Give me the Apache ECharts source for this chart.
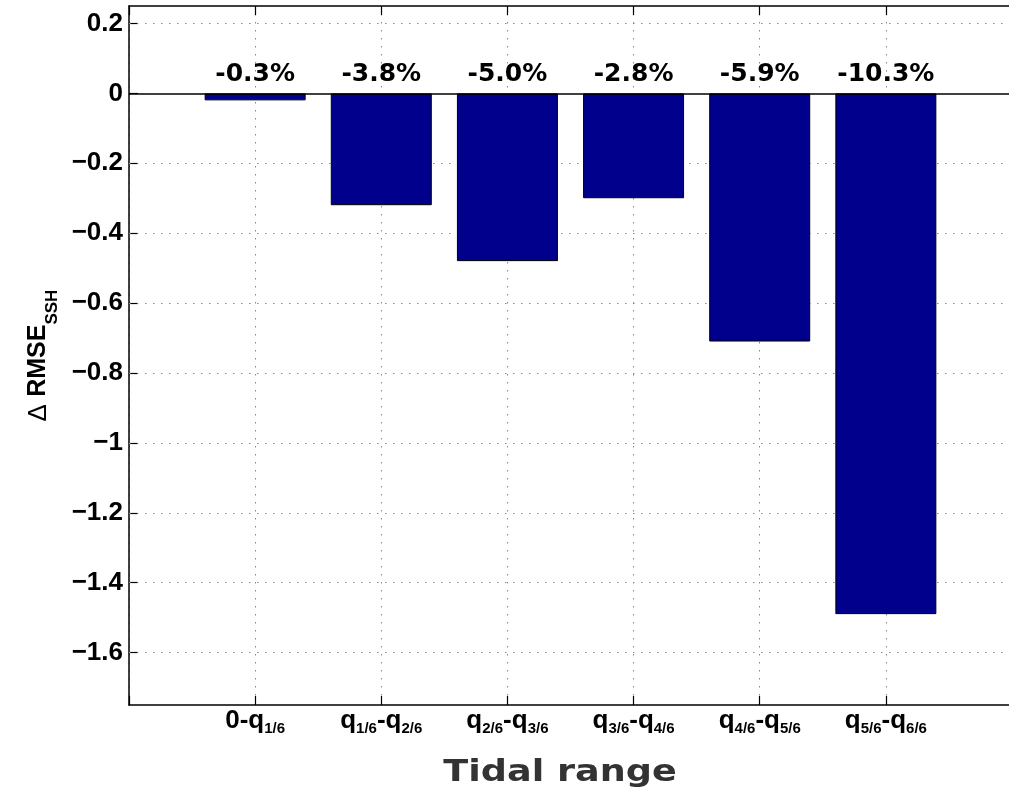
<!DOCTYPE html>
<html>
<head>
<meta charset="utf-8">
<script src="https://cdn.jsdelivr.net/npm/echarts@6/dist/echarts.min.js"></script>
<style>
html,body{margin:0;padding:0;background:#fff;}
#c{width:1009px;height:798px;}
</style>
</head>
<body>
<div id="c"></div>
<script>
// ---- data ----
const categories = ['0-q_{1/6}', 'q_{1/6}-q_{2/6}', 'q_{2/6}-q_{3/6}', 'q_{3/6}-q_{4/6}', 'q_{4/6}-q_{5/6}', 'q_{5/6}-q_{6/6}'];
const deltaRmse = [-0.02, -0.32, -0.48, -0.30, -0.71, -1.49];
const pctLabels = ['-0.3%', '-3.8%', '-5.0%', '-2.8%', '-5.9%', '-10.3%'];
const yTickValues = [0.2, 0, -0.2, -0.4, -0.6, -0.8, -1, -1.2, -1.4, -1.6];
const yMin = -1.75, yMax = 0.25;
const labelLevel = 0.055;
const xTitle = 'Tidal range';
const yTitleMain = 'RMSE', yTitleSub = 'SSH';

// ---- helpers ----
function richLabel(str) {
  const parts = str.split(/_\{([^}]*)\}/);
  let out = '';
  parts.forEach((p, i) => { if (p) out += (i % 2 ? '{s|' : '{m|') + p + '}'; });
  return out;
}
const xPositions = categories.map((c, i) => i + 1);
const barData = deltaRmse.map((v, i) => [xPositions[i], v]);
const labelData = pctLabels.map((t, i) => [xPositions[i], labelLevel]);

const chart = echarts.init(document.getElementById('c'), null, {renderer: 'canvas'});
const dotted = {color: '#8a8a8a', width: 1, type: [1.5, 6.5]};

chart.setOption({
  animation: false,
  backgroundColor: '#fff',
  grid: {left: 129, top: 6, width: 883, height: 699, containLabel: false, outerBoundsMode: 'none'},
  xAxis: [{
    type: 'value', min: 0, max: categories.length + 1, interval: 1, position: 'bottom',
    axisLine: {show: true, onZero: false, lineStyle: {color: '#000', width: 1.5}},
    axisTick: {show: true, inside: true, length: 9, lineStyle: {color: '#000', width: 1.2}},
    splitLine: {show: true, lineStyle: dotted},
    axisLabel: {
      margin: 3,
      formatter: v => (v >= 1 && v <= categories.length) ? richLabel(categories[v - 1]) : '',
      rich: {
        m: {fontFamily: 'Liberation Sans', fontWeight: 'bold', fontSize: 26, lineHeight: 26, verticalAlign: 'top', color: '#000'},
        s: {fontFamily: 'Liberation Sans', fontWeight: 'bold', fontSize: 15, lineHeight: 15, padding: [13, 0, 0, 0], verticalAlign: 'top', color: '#000'}
      }
    }
  }, {
    type: 'value', min: 0, max: categories.length + 1, interval: 1, position: 'top',
    axisLine: {show: true, onZero: false, lineStyle: {color: '#000', width: 1.5}},
    axisTick: {show: true, inside: true, length: 9, lineStyle: {color: '#000', width: 1.2}},
    splitLine: {show: false},
    axisLabel: {show: false}
  }],
  yAxis: {
    type: 'value', min: yMin, max: yMax,
    axisLine: {show: true, onZero: false, lineStyle: {color: '#000', width: 1.5}},
    axisTick: {show: true, inside: true, length: 9, customValues: yTickValues, lineStyle: {color: '#000', width: 1.2}},
    splitLine: {show: false},
    axisLabel: {
      customValues: yTickValues, margin: 6,
      fontFamily: 'Liberation Sans', fontWeight: 'bold', fontSize: 26, color: '#000',
      formatter: v => String(Math.round(v * 10) / 10).replace('-', '\u2212')
    },
    name: '{d|\u0394 }{m|' + yTitleMain + '}{s|' + yTitleSub + '}',
    nameLocation: 'middle', nameRotate: 90, nameGap: 70,
    nameTextStyle: {
      rich: {
        d: {fontFamily: 'Liberation Sans', fontWeight: 'normal', fontSize: 26, lineHeight: 25, verticalAlign: 'top', color: '#000'},
        m: {fontFamily: 'Liberation Sans', fontWeight: 'bold', fontSize: 25, lineHeight: 25, verticalAlign: 'top', color: '#000'},
        s: {fontFamily: 'Liberation Sans', fontWeight: 'bold', fontSize: 17, lineHeight: 17, padding: [18, 0, 0, 0], verticalAlign: 'top', color: '#000'}
      }
    }
  },
  graphic: [{
    type: 'text', x: 560, y: 773, scaleX: 1.22, z: 10,
    style: {
      text: xTitle, x: 0, y: 0,
      font: 'bold 30px "DejaVu Sans"', fill: '#333333',
      align: 'center', verticalAlign: 'middle', textAlign: 'center', textVerticalAlign: 'middle'
    }
  }],
  series: [{
    type: 'scatter', z: 1,
    data: labelData, symbolSize: 1,
    itemStyle: {color: 'rgba(0,0,0,0)'},
    label: {
      show: true, position: 'inside', opacity: 1, textBorderWidth: 0,
      formatter: p => pctLabels[p.dataIndex],
      fontFamily: 'DejaVu Sans', fontWeight: 'bold', fontSize: 25, color: '#000000'
    },
    emphasis: {disabled: true},
    markLine: {
      silent: true, z: 1, symbol: ['none', 'none'],
      label: {show: false},
      lineStyle: dotted,
      data: yTickValues.filter(v => v !== 0).map(v => ({yAxis: v}))
    }
  }, {
    type: 'bar', z: 3,
    data: barData, barWidth: 101,
    itemStyle: {color: '#00008c', borderColor: '#000', borderWidth: 1},
    markLine: {
      silent: true, z: 6, symbol: ['none', 'none'],
      label: {show: false},
      lineStyle: {color: '#000', width: 1.5, type: 'solid'},
      data: [{yAxis: 0}]
    }
  }]
});
</script>
</body>
</html>
